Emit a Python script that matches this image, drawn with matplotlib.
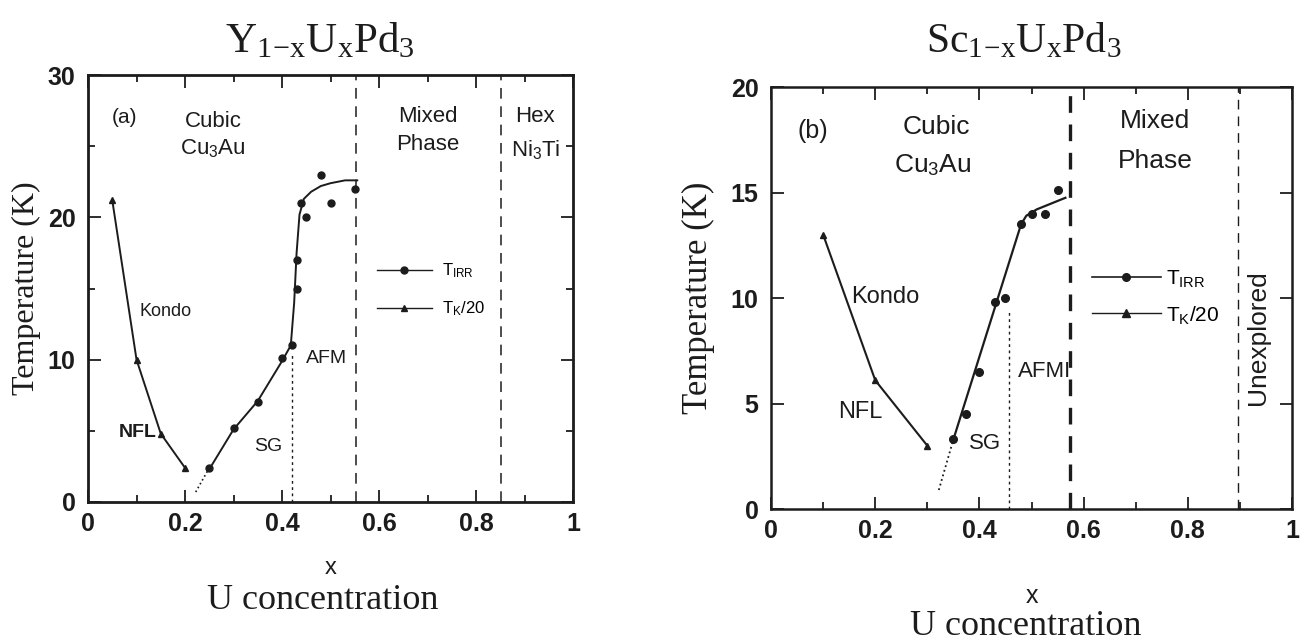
import matplotlib
matplotlib.use("Agg")
import matplotlib.pyplot as plt
from matplotlib.ticker import MultipleLocator

plt.rcParams['font.family'] = ['Liberation Sans', 'DejaVu Sans']
plt.rcParams['mathtext.fontset'] = 'custom'
plt.rcParams['mathtext.rm'] = 'Liberation Serif'
plt.rcParams['mathtext.it'] = 'Liberation Serif:italic'
plt.rcParams['mathtext.sf'] = 'Liberation Sans'

INK = '#1c1c1c'

# ---- panel (a): Y(1-x)U(x)Pd3 ----
xa_tk = [0.05, 0.10, 0.15, 0.20]
Ta_tk = [21.2, 10.0, 4.8, 2.4]
xa_irr = [0.25, 0.30, 0.35, 0.40, 0.42, 0.43, 0.43, 0.44, 0.45, 0.48, 0.50, 0.55]
Ta_irr = [2.4, 5.2, 7.0, 10.1, 11.0, 15.0, 17.0, 21.0, 20.0, 23.0, 21.0, 22.0]
# hand drawn guide through the T_IRR points
xa_fit = [0.25, 0.30, 0.35, 0.40, 0.418, 0.425, 0.43, 0.436, 0.445, 0.46, 0.48, 0.50, 0.53, 0.555]
Ta_fit = [2.3, 5.1, 7.1, 9.9, 11.0, 14.0, 17.5, 20.2, 21.3, 21.8, 22.2, 22.4, 22.6, 22.6]
xa_ext = [0.222, 0.25]
Ta_ext = [0.7, 2.4]
xa_afm = 0.42      # dotted SG / AFM boundary
Ta_afm_top = 10.5
xa_mixed = 0.553   # cubic / mixed
xa_hex = 0.851     # mixed / hex

# ---- panel (b): Sc(1-x)U(x)Pd3 ----
xb_tk = [0.10, 0.20, 0.30]
Tb_tk = [13.0, 6.1, 3.0]
xb_irr = [0.35, 0.375, 0.40, 0.43, 0.45, 0.48, 0.50, 0.525, 0.55]
Tb_irr = [3.3, 4.5, 6.5, 9.8, 10.0, 13.5, 14.0, 14.0, 15.1]
xb_fit = [0.35, 0.48, 0.49, 0.51, 0.53, 0.565]
Tb_fit = [3.3, 13.5, 13.9, 14.2, 14.4, 14.75]
xb_ext = [0.322, 0.35]
Tb_ext = [0.9, 3.3]
xb_afm = 0.456
Tb_afm_top = 9.5
xb_mixed = 0.574
xb_unexp = 0.897

fig = plt.figure(figsize=(13.06, 6.44), dpi=100)
ax1 = fig.add_axes([0.0674, 0.2205, 0.3714, 0.663])
ax2 = fig.add_axes([0.5904, 0.2096, 0.3989, 0.6553])


def style_axes(ax, ymax, ymajor, yminor, xmaj_len, spine_lw):
    ax.set_xlim(0, 1)
    ax.set_ylim(0, ymax)
    ax.xaxis.set_major_locator(MultipleLocator(0.2))
    ax.xaxis.set_minor_locator(MultipleLocator(0.1))
    ax.yaxis.set_major_locator(MultipleLocator(ymajor))
    if yminor:
        ax.yaxis.set_minor_locator(MultipleLocator(yminor))
    ax.tick_params(which='both', direction='in', top=True, right=True,
                   colors=INK, labelsize=18, width=1.3)
    ax.tick_params(which='major', length=xmaj_len)
    ax.tick_params(which='minor', length=5)
    ax.tick_params(axis='x', pad=7)
    ax.tick_params(axis='y', pad=9)
    for lab in ax.get_xticklabels() + ax.get_yticklabels():
        lab.set_fontweight('bold')
    for s in ax.spines.values():
        s.set_linewidth(spine_lw)
        s.set_color(INK)
    ax.xaxis.set_major_formatter(
        matplotlib.ticker.FuncFormatter(lambda v, p: f'{v:g}'))


style_axes(ax1, 30, 10, 5, 9, 2.0)
style_axes(ax2, 20, 5, None, 9, 1.8)

# ---- draw panel (a) ----
ax1.axvline(xa_mixed, color=INK, lw=1.1, ls=(0, (7, 5)))
ax1.axvline(xa_hex, color=INK, lw=1.1, ls=(0, (7, 5)))
ax1.plot([xa_afm, xa_afm], [0, Ta_afm_top], color=INK, lw=1.0, ls=(0, (2, 2.5)))
ax1.plot(xa_tk, Ta_tk, '-', color=INK, lw=1.4, marker='^', ms=5)
ax1.plot(xa_fit, Ta_fit, '-', color=INK, lw=1.4)
ax1.plot(xa_ext, Ta_ext, ':', color=INK, lw=1.2)
ax1.plot(xa_irr, Ta_irr, 'o', color=INK, ms=5, ls='none')

h_irr_a, = ax1.plot([], [], '-', color=INK, lw=1.0, marker='o', ms=5)
h_tk_a, = ax1.plot([], [], '-', color=INK, lw=1.0, marker='^', ms=5)
ax1.legend([h_irr_a, h_tk_a], ['T$_{\\mathregular{IRR}}$', 'T$_{\\mathregular{K}}$/20'],
           loc='center left', bbox_to_anchor=(0.595, 0.497), frameon=False,
           fontsize=12, handlelength=3.3, handletextpad=0.6, labelspacing=1.2,
           borderpad=0, borderaxespad=0)

ta = dict(color=INK, ha='center', va='center')
ax1.text(0.076, 27.0, '(a)', fontsize=15, **ta)
ax1.text(0.258, 26.7, 'Cubic', fontsize=16, **ta)
ax1.text(0.258, 24.9, 'Cu$_{\\mathregular{3}}$Au', fontsize=16, **ta)
ax1.text(0.70, 27.1, 'Mixed', fontsize=16, **ta)
ax1.text(0.70, 25.1, 'Phase', fontsize=16, **ta)
ax1.text(0.922, 27.1, 'Hex', fontsize=16, **ta)
ax1.text(0.922, 24.8, 'Ni$_{\\mathregular{3}}$Ti', fontsize=16, **ta)
ax1.text(0.16, 13.4, 'Kondo', fontsize=13, **ta)
ax1.text(0.103, 4.9, 'NFL', fontsize=14, fontweight='bold', **ta)
ax1.text(0.371, 3.9, 'SG', fontsize=14, **ta)
ax1.text(0.492, 10.1, 'AFM', fontsize=14, **ta)

ax1.set_xlabel('x', fontsize=17, color=INK, labelpad=15)
ax1.set_ylabel('Temperature (K)', fontsize=23, family='Liberation Serif', color=INK)
ax1.yaxis.set_label_coords(-0.126, 0.5)
ax1.yaxis.label.set_va('center')

# ---- draw panel (b) ----
ax2.axvline(xb_mixed, color=INK, lw=2.4, ls=(0, (5, 3.5)))
ax2.axvline(xb_unexp, color=INK, lw=1.0, ls=(0, (7, 5)))
ax2.plot([xb_afm, xb_afm], [0, Tb_afm_top], color=INK, lw=1.0, ls=(0, (2, 2.5)))
ax2.plot(xb_tk, Tb_tk, '-', color=INK, lw=1.5, marker='^', ms=5)
ax2.plot(xb_fit, Tb_fit, '-', color=INK, lw=1.6)
ax2.plot(xb_ext, Tb_ext, ':', color=INK, lw=1.3)
ax2.plot(xb_irr, Tb_irr, 'o', color=INK, ms=5.5, ls='none')

h_irr_b, = ax2.plot([], [], '-', color=INK, lw=1.2, marker='o', ms=5.5)
h_tk_b, = ax2.plot([], [], '-', color=INK, lw=1.0, marker='^', ms=5.5)
ax2.legend([h_irr_b, h_tk_b], ['T$_{\\mathregular{IRR}}$', 'T$_{\\mathregular{K}}$/20'],
           loc='center left', bbox_to_anchor=(0.616, 0.503), frameon=False,
           fontsize=15, handlelength=3.3, handletextpad=0.25, labelspacing=0.7,
           borderpad=0, borderaxespad=0)

ax2.text(0.081, 17.9, '(b)', fontsize=18, **ta)
ax2.text(0.318, 18.1, 'Cubic', fontsize=19, **ta)
ax2.text(0.311, 16.3, 'Cu$_{\\mathregular{3}}$Au', fontsize=19, **ta)
ax2.text(0.737, 18.4, 'Mixed', fontsize=19, **ta)
ax2.text(0.737, 16.5, 'Phase', fontsize=19, **ta)
ax2.text(0.219, 10.06, 'Kondo', fontsize=17, **ta)
ax2.text(0.171, 4.6, 'NFL', fontsize=17, **ta)
ax2.text(0.41, 3.1, 'SG', fontsize=16, **ta)
ax2.text(0.525, 6.5, 'AFMI', fontsize=16, **ta)
ax2.text(0.935, 8.1, 'Unexplored', fontsize=19, rotation=90, **ta)

ax2.set_xlabel('x', fontsize=18, color=INK, labelpad=30)
ax2.set_ylabel('Temperature (K)', fontsize=25, family='Liberation Serif', color=INK)
ax2.yaxis.set_label_coords(-0.140, 0.5)
ax2.yaxis.label.set_va('center')

# ---- titles and bottom captions ----
fig.text(0.245, 0.919, 'Y$_{\\mathregular{1\\!-\\!x}}$U$_{\\mathregular{x}}$Pd$_{\\mathregular{3}}$',
         family='Liberation Serif', fontsize=31, ha='center', va='baseline', color=INK)
fig.text(0.784, 0.919, 'Sc$_{\\mathregular{1\\!-\\!x}}$U$_{\\mathregular{x}}$Pd$_{\\mathregular{3}}$',
         family='Liberation Serif', fontsize=30, ha='center', va='baseline', color=INK)
fig.text(0.247, 0.068, 'U concentration', family='Liberation Serif', fontsize=26,
         ha='center', va='center', color=INK)
fig.text(0.785, 0.001, 'U concentration', family='Liberation Serif', fontsize=26,
         ha='center', va='bottom', color=INK)

fig.savefig('out.png', dpi=100)
